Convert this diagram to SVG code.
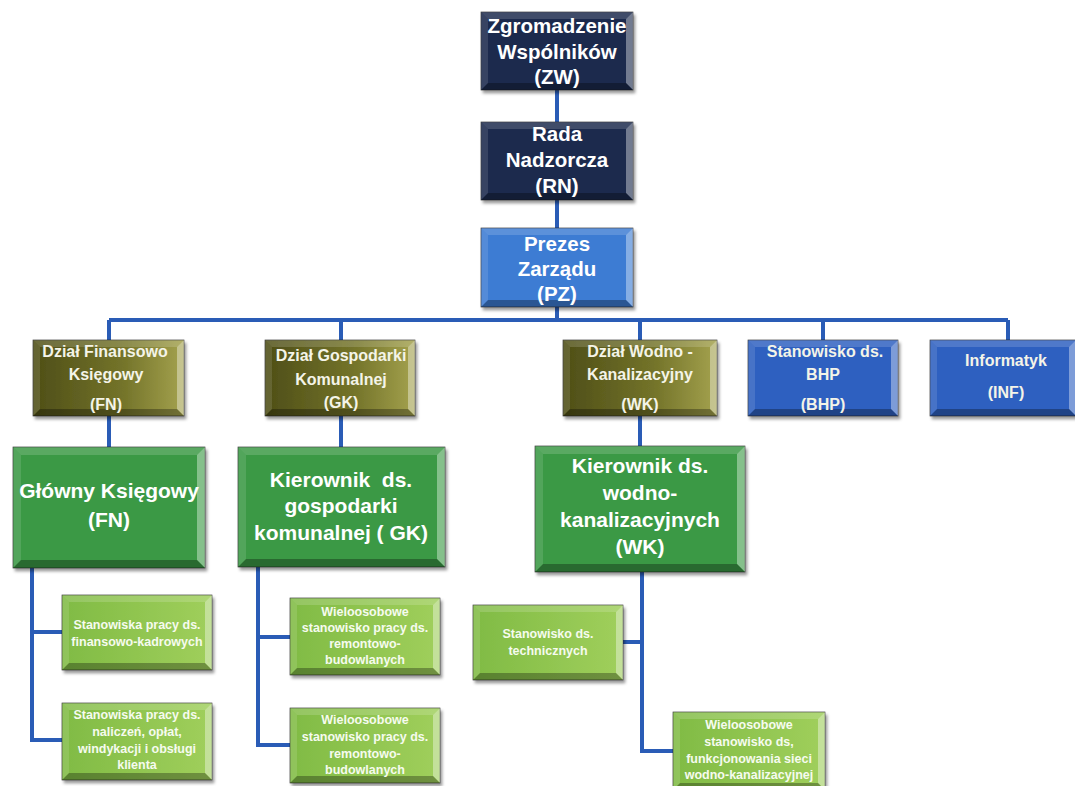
<svg xmlns="http://www.w3.org/2000/svg" width="1075" height="786" viewBox="0 0 1075 786">
<defs>
<filter id="sh" x="-10%" y="-10%" width="125%" height="130%">
<feDropShadow dx="2" dy="3" stdDeviation="1.8" flood-color="#000" flood-opacity="0.4"/>
</filter>
<linearGradient id="olive" x1="0" y1="0" x2="1" y2="0">
<stop offset="0" stop-color="#4e4e17"/>
<stop offset="0.6" stop-color="#74742a"/>
<stop offset="1" stop-color="#a4a24e"/>
</linearGradient>
<linearGradient id="lg" x1="0" y1="0" x2="1" y2="0">
<stop offset="0" stop-color="#80bb44"/>
<stop offset="1" stop-color="#a0cf5c"/>
</linearGradient>
</defs>
<style>
.base{filter:url(#sh);stroke:#222;stroke-width:0.6}
.navy{fill:#1c2b4e}
.pz{fill:#3c7bd3}
.blue{fill:#2e60c0}
.olive{fill:url(#olive)}
.green{fill:#3a9944}
.lgreen{fill:url(#lg)}
.bt{fill:#fff;fill-opacity:.16}
.br{fill:#fff;fill-opacity:.38}
.bb{fill:#000;fill-opacity:.3}
.bl{fill:#fff;fill-opacity:.12}
text{font-family:"Liberation Sans",Arial,sans-serif;font-weight:bold;fill:#fff;text-anchor:middle}
.t1{font-size:20.5px}
.t2{font-size:16px;fill:#f4f4e8}
.t3{font-size:21px}
.t4{font-size:12.5px;fill:#f6fbef}
.conn{fill:none;stroke:#2a5cb6;stroke-width:4}
</style>

<g id="connectors" class="conn">
<path d="M557 90 V122 M557 200 V228 M557 307 V320"/>
<path d="M109 320 H1008"/>
<path d="M109 320 V340 M341 320 V340 M640 320 V340 M823 320 V340 M1008 320 V340"/>
<path d="M109 416 V447 M341 416 V447 M640 416 V446"/>
<path d="M32 568 V740 H62 M32 632 H62"/>
<path d="M258 567 V745 H290 M258 637 H290"/>
<path d="M642 572 V751 H673 M642 642 H623"/>
</g>

<g id="zw">
<rect class="base navy" x="481" y="12" width="152" height="78"/>
<polygon class="bt" points="481,12 633,12 626,19 488,19"/>
<polygon class="br" points="633,12 633,90 626,83 626,19"/>
<polygon class="bb" points="481,90 633,90 626,83 488,83"/>
<polygon class="bl" points="481,12 488,19 488,83 481,90"/>
<text class="t1" x="557" y="33">Zgromadzenie</text>
<text class="t1" x="557" y="59">Wspólników</text>
<text class="t1" x="557" y="84">(ZW)</text>
</g>

<g id="rn">
<rect class="base navy" x="481" y="122" width="152" height="78"/>
<polygon class="bt" points="481,122 633,122 626,129 488,129"/>
<polygon class="br" points="633,122 633,200 626,193 626,129"/>
<polygon class="bb" points="481,200 633,200 626,193 488,193"/>
<polygon class="bl" points="481,122 488,129 488,193 481,200"/>
<text class="t1" x="557" y="141">Rada</text>
<text class="t1" x="557" y="167">Nadzorcza</text>
<text class="t1" x="557" y="193">(RN)</text>
</g>

<g id="pz">
<rect class="base pz" x="481" y="228" width="152" height="79"/>
<polygon class="bt" points="481,228 633,228 626,235 488,235"/>
<polygon class="br" points="633,228 633,307 626,300 626,235"/>
<polygon class="bb" points="481,307 633,307 626,300 488,300"/>
<polygon class="bl" points="481,228 488,235 488,300 481,307"/>
<text class="t1" x="557" y="251">Prezes</text>
<text class="t1" x="557" y="276">Zarządu</text>
<text class="t1" x="557" y="301">(PZ)</text>
</g>

<g id="fn">
<rect class="base olive" x="33" y="340" width="151" height="76"/>
<polygon class="bt" points="33,340 184,340 177,347 40,347"/>
<polygon class="br" points="184,340 184,416 177,409 177,347"/>
<polygon class="bb" points="33,416 184,416 177,409 40,409"/>
<polygon class="bl" points="33,340 40,347 40,409 33,416"/>
<text class="t2" x="105" y="357">Dział Finansowo</text>
<text class="t2" x="106" y="380">Księgowy</text>
<text class="t2" x="106" y="410">(FN)</text>
</g>

<g id="gk">
<rect class="base olive" x="265" y="340" width="150" height="76"/>
<polygon class="bt" points="265,340 415,340 408,347 272,347"/>
<polygon class="br" points="415,340 415,416 408,409 408,347"/>
<polygon class="bb" points="265,416 415,416 408,409 272,409"/>
<polygon class="bl" points="265,340 272,347 272,409 265,416"/>
<text class="t2" x="341" y="361">Dział Gospodarki</text>
<text class="t2" x="341" y="385">Komunalnej</text>
<text class="t2" x="341" y="408">(GK)</text>
</g>

<g id="wk">
<rect class="base olive" x="563" y="340" width="154" height="76"/>
<polygon class="bt" points="563,340 717,340 710,347 570,347"/>
<polygon class="br" points="717,340 717,416 710,409 710,347"/>
<polygon class="bb" points="563,416 717,416 710,409 570,409"/>
<polygon class="bl" points="563,340 570,347 570,409 563,416"/>
<text class="t2" x="640" y="357">Dział Wodno -</text>
<text class="t2" x="640" y="380">Kanalizacyjny</text>
<text class="t2" x="640" y="410">(WK)</text>
</g>

<g id="bhp">
<rect class="base blue" x="748" y="340" width="150" height="76"/>
<polygon class="bt" points="748,340 898,340 891,347 755,347"/>
<polygon class="br" points="898,340 898,416 891,409 891,347"/>
<polygon class="bb" points="748,416 898,416 891,409 755,409"/>
<polygon class="bl" points="748,340 755,347 755,409 748,416"/>
<text class="t2" x="825" y="357">Stanowisko ds.</text>
<text class="t2" x="823" y="380">BHP</text>
<text class="t2" x="823" y="410">(BHP)</text>
</g>

<g id="inf">
<rect class="base blue" x="930" y="340" width="146" height="76"/>
<polygon class="bt" points="930,340 1076,340 1069,347 937,347"/>
<polygon class="br" points="1076,340 1076,416 1069,409 1069,347"/>
<polygon class="bb" points="930,416 1076,416 1069,409 937,409"/>
<polygon class="bl" points="930,340 937,347 937,409 930,416"/>
<text class="t2" x="1006" y="366">Informatyk</text>
<text class="t2" x="1006" y="398">(INF)</text>
</g>

<g id="gl">
<rect class="base green" x="13" y="447" width="192" height="121"/>
<polygon class="bt" points="13,447 205,447 197,455 21,455"/>
<polygon class="br" points="205,447 205,568 197,560 197,455"/>
<polygon class="bb" points="13,568 205,568 197,560 21,560"/>
<polygon class="bl" points="13,447 21,455 21,560 13,568"/>
<text class="t3" x="109" y="498">Główny Księgowy</text>
<text class="t3" x="109" y="527">(FN)</text>
</g>

<g id="kgk">
<rect class="base green" x="238" y="447" width="207" height="120"/>
<polygon class="bt" points="238,447 445,447 437,455 246,455"/>
<polygon class="br" points="445,447 445,567 437,559 437,455"/>
<polygon class="bb" points="238,567 445,567 437,559 246,559"/>
<polygon class="bl" points="238,447 246,455 246,559 238,567"/>
<text class="t3" x="341" y="487" xml:space="preserve">Kierownik  ds.</text>
<text class="t3" x="341" y="513">gospodarki</text>
<text class="t3" x="341" y="540">komunalnej ( GK)</text>
</g>

<g id="kwk">
<rect class="base green" x="535" y="446" width="210" height="126"/>
<polygon class="bt" points="535,446 745,446 737,454 543,454"/>
<polygon class="br" points="745,446 745,572 737,564 737,454"/>
<polygon class="bb" points="535,572 745,572 737,564 543,564"/>
<polygon class="bl" points="535,446 543,454 543,564 535,572"/>
<text class="t3" x="640" y="473">Kierownik ds.</text>
<text class="t3" x="640" y="500">wodno-</text>
<text class="t3" x="640" y="527">kanalizacyjnych</text>
<text class="t3" x="640" y="554">(WK)</text>
</g>

<g id="s1">
<rect class="base lgreen" x="62" y="595" width="150" height="75"/>
<polygon class="bt" points="62,595 212,595 205,602 69,602"/>
<polygon class="br" points="212,595 212,670 205,663 205,602"/>
<polygon class="bb" points="62,670 212,670 205,663 69,663"/>
<polygon class="bl" points="62,595 69,602 69,663 62,670"/>
<text class="t4" x="137" y="629">Stanowiska pracy ds.</text>
<text class="t4" x="137" y="646">finansowo-kadrowych</text>
</g>

<g id="s2">
<rect class="base lgreen" x="62" y="703" width="150" height="77"/>
<polygon class="bt" points="62,703 212,703 205,710 69,710"/>
<polygon class="br" points="212,703 212,780 205,773 205,710"/>
<polygon class="bb" points="62,780 212,780 205,773 69,773"/>
<polygon class="bl" points="62,703 69,710 69,773 62,780"/>
<text class="t4" x="137" y="719">Stanowiska pracy ds.</text>
<text class="t4" x="137" y="736">naliczeń, opłat,</text>
<text class="t4" x="137" y="753">windykacji i obsługi</text>
<text class="t4" x="137" y="769">klienta</text>
</g>

<g id="s3">
<rect class="base lgreen" x="290" y="598" width="150" height="77"/>
<polygon class="bt" points="290,598 440,598 433,605 297,605"/>
<polygon class="br" points="440,598 440,675 433,668 433,605"/>
<polygon class="bb" points="290,675 440,675 433,668 297,668"/>
<polygon class="bl" points="290,598 297,605 297,668 290,675"/>
<text class="t4" x="365" y="616">Wieloosobowe</text>
<text class="t4" x="365" y="632">stanowisko pracy ds.</text>
<text class="t4" x="365" y="648">remontowo-</text>
<text class="t4" x="365" y="664">budowlanych</text>
</g>

<g id="s4">
<rect class="base lgreen" x="290" y="708" width="150" height="75"/>
<polygon class="bt" points="290,708 440,708 433,715 297,715"/>
<polygon class="br" points="440,708 440,783 433,776 433,715"/>
<polygon class="bb" points="290,783 440,783 433,776 297,776"/>
<polygon class="bl" points="290,708 297,715 297,776 290,783"/>
<text class="t4" x="365" y="724">Wieloosobowe</text>
<text class="t4" x="365" y="741">stanowisko pracy ds.</text>
<text class="t4" x="365" y="758">remontowo-</text>
<text class="t4" x="365" y="774">budowlanych</text>
</g>

<g id="s5">
<rect class="base lgreen" x="473" y="605" width="150" height="75"/>
<polygon class="bt" points="473,605 623,605 616,612 480,612"/>
<polygon class="br" points="623,605 623,680 616,673 616,612"/>
<polygon class="bb" points="473,680 623,680 616,673 480,673"/>
<polygon class="bl" points="473,605 480,612 480,673 473,680"/>
<text class="t4" x="548" y="638">Stanowisko ds.</text>
<text class="t4" x="548" y="655">technicznych</text>
</g>

<g id="s6">
<rect class="base lgreen" x="673" y="712" width="152" height="78"/>
<polygon class="bt" points="673,712 825,712 818,719 680,719"/>
<polygon class="br" points="825,712 825,790 818,783 818,719"/>
<polygon class="bb" points="673,790 825,790 818,783 680,783"/>
<polygon class="bl" points="673,712 680,719 680,783 673,790"/>
<text class="t4" x="749" y="729">Wieloosobowe</text>
<text class="t4" x="749" y="746">stanowisko ds,</text>
<text class="t4" x="749" y="763">funkcjonowania sieci</text>
<text class="t4" x="749" y="779">wodno-kanalizacyjnej</text>
</g>
</svg>
